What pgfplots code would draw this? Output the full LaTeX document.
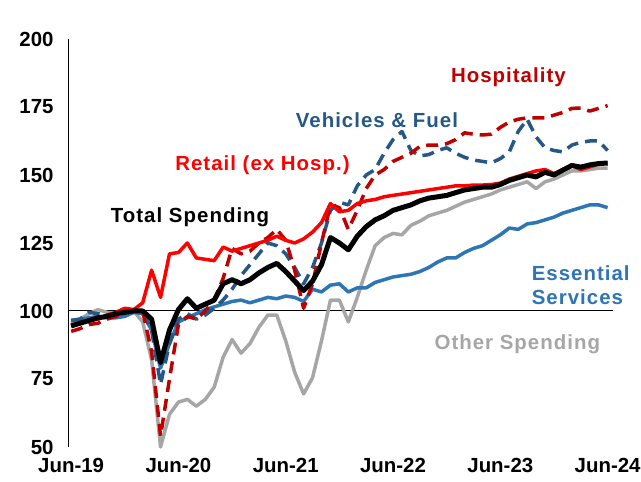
\documentclass[border=0pt]{standalone}
\usepackage{pgfplots}
\usepackage{pgfplotstable}
\usepackage{fontspec}
\setmainfont{Liberation Sans}
\pgfplotsset{compat=1.18}

\definecolor{hosp}{RGB}{192,0,0}
\definecolor{veh}{RGB}{37,87,135}
\definecolor{retail}{RGB}{255,0,0}
\definecolor{ess}{RGB}{46,117,182}
\definecolor{other}{RGB}{166,166,166}

\newcommand\lab{\fontsize{20.5}{24}\selectfont\bfseries}
\newcommand\labw{\fontsize{20.5}{24}\selectfont\bfseries\addfontfeatures{LetterSpace=5}}

% month index 0 = Jun-19 ... 60 = Jun-24
\pgfplotstableread{
m  total retail hosp  veh   ess   other
0  94.5  94.5   92.5  96.5  96.5  95.5
1  95.5  95.5   93.5  97    97    97
2  96.5  96.5   95    99.5  97.5  99
3  97.5  97     95.5  99    98    100.5
4  98    98.5   97    98.5  97.5  99.5
5  99    99.5   98    99    97.5  99
6  99.5  101    100   99.5  98    99
7  100   100.5  100   100   99.5  100
8  100   103    100   99.5  99    96
9  97    115    85    93    93    82
10 81    105    54    73    79    50
11 93    121    75    88    88    62
12 100.5 121.5  95    97    96    66.5
13 104.5 125    98    99    97.5  67.5
14 101   119.5  97    97    99    65
15 102.5 119    100   98.5  100.5 67.5
16 104   118.5  104   101   101.5 72
17 110   123.5  112   104   102.5 83
18 111.5 122    123   108   103.5 89.5
19 110   123    121   113   104   84.5
20 111.5 124    122   117   103   88
21 114   125    125   121   104   94
22 116   126    127   125   105   98.5
23 117.5 127.5  130   124   104.5 98.5
24 114.5 126    126   121   105.5 89
25 111   125    115   116   105   77.5
26 107.5 126.5  101   110   103.5 69.5
27 111   129    110   116   108   75.5
28 117   132.5  125   125   107   89
29 127   139.5  139   137   109.5 104
30 125   136.5  138   140   110   104
31 122.5 137    130   139   107   96
32 127.5 139.5  137   146   108.5 105
33 131   140.5  145   150   108.5 115
34 133.5 141    150   152   110.5 124
35 135   142    152   158   111.5 127
36 137   142.5  155   163   112.5 128.5
37 138   143    156.5 166   113   128
38 139   143.5  158   159   113.5 131.5
39 140.5 144    160.5 157   114.5 133
40 141.5 144.5  161   157.5 116   135
41 142   145    161   159   118   136
42 142.5 145.5  161.5 160   119.5 137
43 143.5 146    163   158   119.5 138.5
44 144.5 146    165.5 156.5 121.5 140
45 145   146.3  165   155.5 123   141
46 145.5 146.3  164.7 155   124   142
47 145.5 146.5  165   154.5 126   143
48 146.5 147    167.5 156   128   144.5
49 148   148.5  169.5 158.5 130.5 145.5
50 149   149.5  170.5 166   130   146.5
51 150   150.5  171   170.5 132   147.5
52 149.3 151.5  171   164   132.5 145
53 151   152    171   160   133.5 147.5
54 150   150.5  172   159   134.5 148.5
55 151.8 152    173   158.5 136   150
56 153.5 153.5  174.5 161   137   151.5
57 152.9 152    174.6 162   138   151.5
58 153.7 153    173.5 162.5 139   152
59 154.2 154    174.5 162.5 139   152.5
60 154.4 154.5  175.5 159   138   152.5
}\spend

\begin{document}
\begin{tikzpicture}
\begin{axis}[
    scale only axis,
    width=545bp, height=408bp,
    xmin=-0.35, xmax=60.6,
    ymin=50, ymax=200,
    axis lines*=left,
    x axis line style={draw=none},
    y axis line style={black, line width=1pt, -},
    tick style={draw=none},
    xtick={0,12,24,36,48,60},
    xticklabels={Jun-19,Jun-20,Jun-21,Jun-22,Jun-23,Jun-24},
    ytick={50,75,100,125,150,175,200},
    /pgf/number format/assume math mode=true,
    xticklabel style={font=\lab, yshift=-8bp},
    yticklabel style={font=\lab, xshift=-11bp},
    clip=false,
    every axis plot/.append style={line join=round},
]
\addplot[black, line width=1pt] coordinates {(-0.35,100) (60.6,100)};
\addplot[other, line width=3.5bp] table[x=m, y=other] {\spend};
\addplot[ess, line width=3.5bp] table[x=m, y=ess] {\spend};
\addplot[veh, line width=3.5bp, dash pattern=on 12bp off 7bp] table[x=m, y=veh] {\spend};
\addplot[hosp, line width=3.5bp, dash pattern=on 12bp off 7bp] table[x=m, y=hosp] {\spend};
\addplot[retail, line width=3.5bp] table[x=m, y=retail] {\spend};
\addplot[black, line width=5bp] table[x=m, y=total] {\spend};

\node[font=\labw, text=hosp] at (axis cs:48.9,186) {Hospitality};
\node[font=\labw, text=veh] at (axis cs:34.2,170.2) {Vehicles \& Fuel};
\node[font=\labw, text=retail] at (axis cs:21.4,153.7) {Retail (ex Hosp.)};
\node[font=\labw, text=black] at (axis cs:13.3,134.6) {Total Spending};
\node[font=\labw, text=ess, align=left, anchor=west, inner sep=0pt] at (axis cs:51.5,109.6) {Essential\\Services};
\node[font=\labw, text=other] at (axis cs:49.9,87.9) {Other Spending};

\coordinate (bbl) at (rel axis cs:-0.1248,-0.0858);
\coordinate (btr) at (rel axis cs:1.0514,1.0956);
\end{axis}
\pgfresetboundingbox
\path[use as bounding box] (bbl) rectangle (btr);
\end{tikzpicture}
\end{document}
